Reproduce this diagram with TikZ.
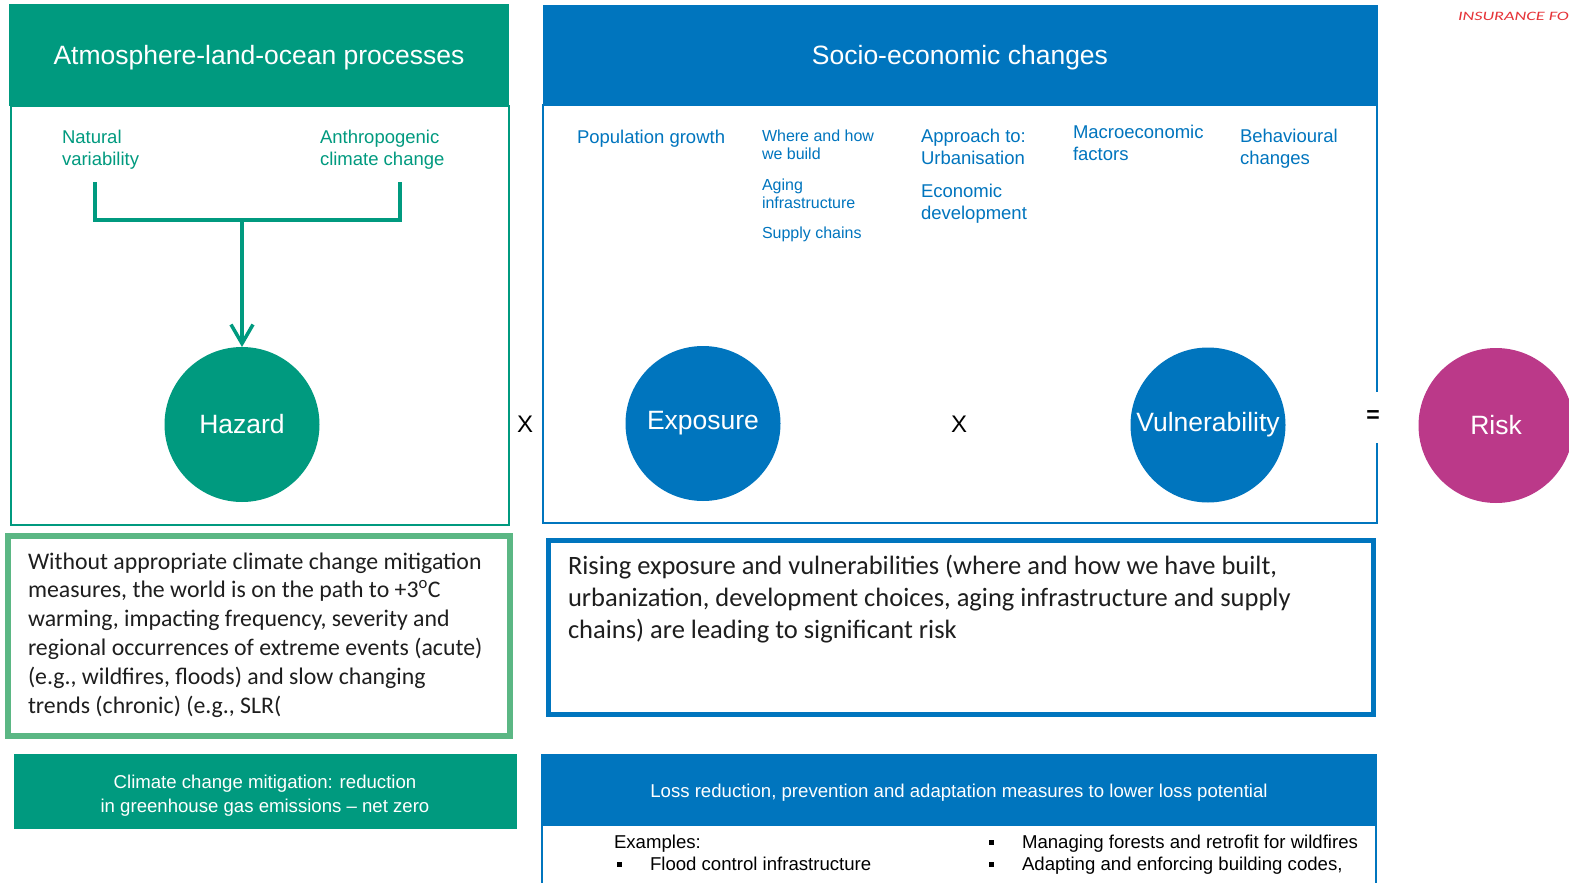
\documentclass[tikz,border=0pt]{standalone}
\usepackage{fontspec}
\setmainfont{Carlito}
\newfontfamily\arialfont{Liberation Sans}
\newfontfamily\brandfont[FakeStretch=1.42]{Carlito}
\usetikzlibrary{arrows.meta}
\definecolor{ecoGreen}{RGB}{0,154,127}
\definecolor{boxGreen}{RGB}{91,183,132}
\definecolor{socBlue}{RGB}{0,117,190}
\definecolor{riskPink}{RGB}{187,57,137}
\definecolor{brandRed}{RGB}{230,50,55}
\definecolor{bodyText}{RGB}{30,30,30}
\newcommand\fsz[2]{\fontsize{#1}{#2}\selectfont}

\begin{document}
\begin{tikzpicture}[x=1pt,y=-1pt,
  every node/.style={inner sep=0pt,outer sep=0pt},
  band/.style={rectangle,fill=#1,draw=none},
  panelframe/.style={rectangle,draw=#1},
  disc/.style={circle,fill=#1,minimum size=155pt,text=white,font=\arialfont\fsz{26.5}{30}},
  hdrtext/.style={text=white,font=\arialfont\fsz{26.5}{30},anchor=base},
  % multi-line labels are placed by the baseline of their last line
  driver/.style={align=left,anchor=base west,font=\arialfont\fsz{18.5}{22}},
  driversm/.style={align=left,anchor=base west,font=\arialfont\fsz{16}{18}},
  optext/.style={font=\arialfont\fsz{24}{28}},
  notetext/.style={align=left,anchor=base west,text=bodyText},
  bandtext/.style={text=white,align=center,anchor=base,font=\arialfont\fsz{18.6}{24}},
  exampletext/.style={anchor=base west,font=\arialfont\fsz{18.6}{22}},
  bulletmark/.style={rectangle,fill=black,minimum size=5pt},
  merge/.style={draw=ecoGreen,line width=3.5pt},
]
\useasboundingbox (0,0) rectangle (1569,883);
\clip (0,0) rectangle (1569,883);
\fill[white] (0,0) rectangle (1569,883);

% ---- hazard column ----
\node[panelframe=ecoGreen, line width=2pt, minimum width=498pt, minimum height=419pt] (atmframe) at (260,315.5) {};
\node[band=ecoGreen, minimum width=500pt, minimum height=102pt] (atmhdr) at (259,55) {};
\node[hdrtext] (atmtitle) at (259,64) {Atmosphere-land-ocean processes};
\node[driver,text=ecoGreen] (natvar) at (62,165) {Natural\\variability};
\node[driver,text=ecoGreen] (anthro) at (320,165) {Anthropogenic\\climate change};
\node[disc=ecoGreen] (hazard) at (242,424.5) {Hazard};
\coordinate (natfoot) at (95,182);
\coordinate (anthfoot) at (400,182);
\coordinate (join) at (242,220);
\draw[merge] (natfoot) |- (join) -| (anthfoot);
\draw[merge, -{Straight Barb[length=19pt,width=22pt]}] (join) -- (hazard.north);

\node[optext] (times1) at (525,424) {X};

% ---- socio-economic column ----
\node[panelframe=socBlue, line width=2pt, minimum width=834pt, minimum height=418pt] (socframe) at (960,314) {};
\node[band=socBlue, minimum width=835pt, minimum height=100pt] (sochdr) at (960.5,55) {};
\node[hdrtext] (soctitle) at (960,65) {Socio-economic changes};

\node[driver,text=socBlue] (popgrowth) at (577,143) {Population growth};
\node[driversm,text=socBlue] (howbuild) at (762,159) {Where and how\\we build};
\node[driversm,text=socBlue] (aging) at (762,208) {Aging\\infrastructure};
\node[driversm,text=socBlue] (supply) at (762,238) {Supply chains};
\node[driver,text=socBlue] (urban) at (921,164) {Approach to:\\Urbanisation};
\node[driver,text=socBlue] (econdev) at (921,219) {Economic\\development};
\node[driver,text=socBlue] (macro) at (1073,160) {Macroeconomic\\factors};
\node[driver,text=socBlue] (behav) at (1240,164) {Behavioural\\changes};

\node[disc=socBlue] (exposure) at (703,423.5) {Exposure};
\node[optext] (times2) at (959,424) {X};
\node[disc=socBlue] (vuln) at (1208,425) {Vulnerability};
\node[fill=white, minimum width=12pt, minimum height=51pt, font=\arialfont\bfseries\fsz{23}{24}] (equals) at (1373,417) {=};
\node[disc=riskPink] (risk) at (1496,425.5) {Risk};

\node[anchor=base west, text=brandRed, font=\brandfont\itshape\fsz{12.8}{15}] (brand) at (1458,20.5) {INSURANCE FOR};

% ---- explanatory notes ----
\node[panelframe=boxGreen, line width=6pt, minimum width=502pt, minimum height=200pt] (hazardnote) at (259,636) {};
\node[notetext, font=\fsz{23.8}{28.8}] (hazardtext) at (28,713) {Without appropriate climate change mitigation\\measures, the world is on the path to +3\textsuperscript{o}C\\warming, impacting frequency, severity and\\regional occurrences of extreme events (acute)\\(e.g., wildfires, floods) and slow changing\\trends (chronic) (e.g., SLR(};

\node[panelframe=socBlue, line width=5pt, minimum width=825pt, minimum height=174pt] (risknote) at (961,627.5) {};
\node[notetext, font=\fsz{26.5}{32}] (risktext) at (568,638) {Rising exposure and vulnerabilities (where and how we have built,\\urbanization, development choices, aging infrastructure and supply\\chains) are leading to significant risk};

% ---- measures ----
\node[band=ecoGreen, minimum width=503pt, minimum height=75pt] (mitigation) at (265.5,791.5) {};
\node[bandtext] (mitigationtext) at (265,812) {Climate change mitigation: reduction\\in greenhouse gas emissions – net zero};

\node[panelframe=socBlue, line width=2pt, minimum width=834pt, minimum height=80pt] (lossbody) at (959,865) {};
\node[band=socBlue, minimum width=836pt, minimum height=71pt] (losshdr) at (959,789.5) {};
\node[bandtext] (losstitle) at (959,797) {Loss reduction, prevention and adaptation measures to lower loss potential};
\node[exampletext] (exlabel) at (614,848) {Examples:};
\node[bulletmark] (bul1) at (619,864) {};
\node[exampletext] (ex1) at (650,870) {Flood control infrastructure};
\node[bulletmark] (bul2) at (991,842) {};
\node[exampletext] (ex2) at (1022,848) {Managing forests and retrofit for wildfires};
\node[bulletmark] (bul3) at (991,864) {};
\node[exampletext] (ex3) at (1022,870) {Adapting and enforcing building codes,};
\end{tikzpicture}
\end{document}
